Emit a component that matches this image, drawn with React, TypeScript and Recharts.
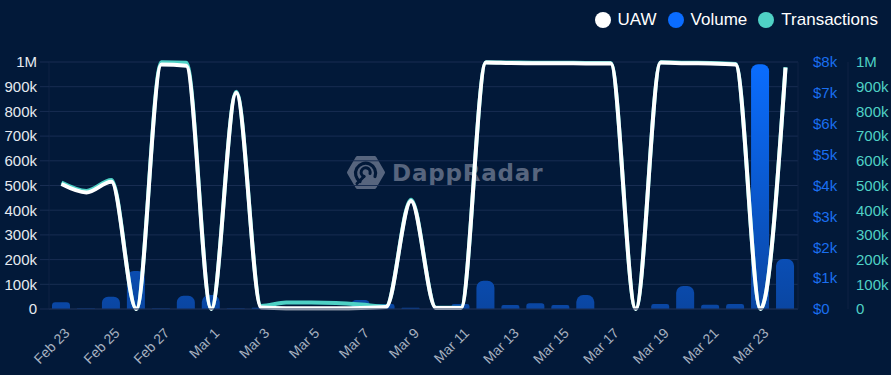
import { ComposedChart, Bar, Line, XAxis, YAxis, CartesianGrid } from 'recharts';

const dates = [
  'Feb 23', 'Feb 24', 'Feb 25', 'Feb 26', 'Feb 27', 'Feb 28',
  'Mar 1', 'Mar 2', 'Mar 3', 'Mar 4', 'Mar 5', 'Mar 6', 'Mar 7', 'Mar 8', 'Mar 9', 'Mar 10',
  'Mar 11', 'Mar 12', 'Mar 13', 'Mar 14', 'Mar 15', 'Mar 16', 'Mar 17', 'Mar 18', 'Mar 19', 'Mar 20',
  'Mar 21', 'Mar 22', 'Mar 23', 'Mar 24',
];

const uaw = [
  506000, 472000, 515000, 0, 990000, 985000,
  0, 876000, 6000, 3000, 3000, 3000, 4000, 8000, 437000, 4000,
  4000, 998000, 996000, 995000, 995000, 994000, 994000, 0, 998000, 995000,
  994000, 990000, 0, 977000,
];

const transactions = [
  512000, 478000, 522000, 0, 999000, 997000,
  0, 880000, 12000, 26000, 26000, 24000, 18000, 10000, 442000, 5000,
  5000, 999000, 998000, 997000, 997000, 996000, 996000, 0, 999000, 997000,
  996000, 992000, 0, 979000,
];

const volume = [
  220, 20, 400, 1230, 20, 430,
  450, 20, 40, 0, 0, 0, 290, 160, 40, 0,
  160, 915, 130, 185, 130, 450, 0, 0, 160, 745,
  140, 160, 7930, 1620,
];

const countTicks = [0, 100000, 200000, 300000, 400000, 500000, 600000, 700000, 800000, 900000, 1000000];
const countTickLabels = ['0', '100k', '200k', '300k', '400k', '500k', '600k', '700k', '800k', '900k', '1M'];
const volumeTicks = [0, 1000, 2000, 3000, 4000, 5000, 6000, 7000, 8000];
const volumeTickLabels = ['$0', '$1k', '$2k', '$3k', '$4k', '$5k', '$6k', '$7k', '$8k'];

const legendItems = [
  { name: 'UAW', color: '#ffffff' },
  { name: 'Volume', color: '#0a6cff' },
  { name: 'Transactions', color: '#4fd1c5' },
];

type Row = {
  date: string,
  uaw: number,
  volume: number,
  transactions: number
}

const data: Row[] = dates.map((date, i) => ({
  date,
  uaw: uaw[i],
  volume: volume[i],
  transactions: transactions[i],
}));

const bg = '#021939';
const gridColor = '#182d52';
const axisColor = '#0e2344';
const font = '"Liberation Sans", Arial, sans-serif';

const countLabel = (v: number) => countTickLabels[countTicks.indexOf(v)] ?? '';
const volumeLabel = (v: number) => volumeTickLabels[volumeTicks.indexOf(v)] ?? '';

const DateTick = (props: any) => {
  const { x, y, payload } = props;
  return (
    <g transform={`translate(${x + 9},${y + 17}) rotate(-45)`}>
      <text x={0} y={0} textAnchor="end" fill="#a7b1c0" fontSize={14}>
        {payload.value}
      </text>
    </g>
  );
};

const Watermark = () => {
  const cx = 366;
  const cy = 172.5;
  const hex = [
    [cx - 17, cy], [cx - 8.5, cy - 14.5], [cx + 8.5, cy - 14.5],
    [cx + 17, cy], [cx + 8.5, cy + 14.5], [cx - 8.5, cy + 14.5],
  ].map(p => p.join(',')).join(' ');
  return (
    <svg width={891} height={375} style={{ position: 'absolute', left: 0, top: 0 }}>
      <polygon points={hex} fill="#57657e" stroke="#57657e" strokeWidth={4} strokeLinejoin="round" />
      <path
        d={`M ${cx - 6} ${cy + 9} A 10 10 0 1 1 ${cx + 9} ${cy + 4}`}
        fill="none" stroke={bg} strokeWidth={3.2} strokeLinecap="round"
      />
      <path
        d={`M ${cx - 2} ${cy + 4} A 4.5 4.5 0 1 1 ${cx + 4} ${cy + 1}`}
        fill="none" stroke={bg} strokeWidth={3} strokeLinecap="round"
      />
      <line x1={cx - 2} y1={cy + 4} x2={cx - 9} y2={cy + 11} stroke={bg} strokeWidth={3} strokeLinecap="round" />
      <text x={392} y={181} fill="#57657e" fontSize={23} fontWeight="bold"
        style={{ fontFamily: '"DejaVu Sans", sans-serif', letterSpacing: 0.8 }}>
        DappRadar
      </text>
    </svg>
  );
};

const Legend = () => (
  <div style={{
    position: 'absolute', top: 10, right: 13, display: 'flex', alignItems: 'center',
    color: '#ffffff', fontSize: 17, lineHeight: '20px',
  }}>
    {legendItems.map((item, i) => (
      <div key={item.name} style={{ display: 'flex', alignItems: 'center', marginLeft: i === 0 ? 0 : 11 }}>
        <span style={{
          width: 16, height: 16, borderRadius: 8, background: item.color,
          display: 'inline-block', marginRight: 7,
        }} />
        <span>{item.name}</span>
      </div>
    ))}
  </div>
);

const App = () => {
  return (
    <div style={{
      position: 'fixed', left: 0, top: 0, width: 891, height: 375,
      background: bg, fontFamily: font, overflow: 'hidden',
    }}>
      <Watermark />
      <div style={{ position: 'absolute', left: 0, top: 0 }}>
        <ComposedChart width={891} height={375} data={data} margin={{ top: 62, right: 0, bottom: 0, left: 0 }}>
          <defs>
            <linearGradient id="volumeFill" gradientUnits="userSpaceOnUse" x1="0" y1="62" x2="0" y2="309">
              <stop offset="0%" stopColor="#0a6dff" />
              <stop offset="100%" stopColor="#0a46a2" />
            </linearGradient>
          </defs>
          <CartesianGrid yAxisId="left" vertical={false} stroke={gridColor} />
          <XAxis
            dataKey="date"
            height={66}
            interval={1}
            tickLine={false}
            axisLine={{ stroke: gridColor }}
            tick={<DateTick />}
          />
          <YAxis
            yAxisId="left"
            width={49}
            domain={[0, 1000000]}
            ticks={countTicks}
            tickFormatter={countLabel}
            tickSize={9}
            tickMargin={3}
            tick={{ fill: '#e6eaf0', fontSize: 15 }}
            tickLine={{ stroke: gridColor }}
            axisLine={{ stroke: axisColor }}
          />
          <YAxis
            yAxisId="right1"
            orientation="right"
            width={50}
            domain={[0, 8000]}
            ticks={volumeTicks}
            tickFormatter={volumeLabel}
            tickMargin={9}
            tick={{ fill: '#1a6ff0', fontSize: 15 }}
            tickLine={false}
            axisLine={{ stroke: axisColor }}
          />
          <YAxis
            yAxisId="right2"
            orientation="right"
            width={43}
            domain={[0, 1000000]}
            ticks={countTicks}
            tickFormatter={countLabel}
            tick={{ fill: '#4fd1c5', fontSize: 15 }}
            tickLine={false}
            axisLine={{ stroke: axisColor }}
          />
          <Bar
            yAxisId="right1"
            dataKey="volume"
            barSize={18}
            radius={[7, 7, 0, 0]}
            fill="url(#volumeFill)"
            isAnimationActive={false}
          />
          <Line
            yAxisId="right2"
            type="monotone"
            dataKey="transactions"
            stroke="#4fd1c5"
            strokeWidth={4}
            dot={false}
            activeDot={false}
            isAnimationActive={false}
          />
          <Line
            yAxisId="left"
            type="monotone"
            dataKey="uaw"
            stroke="#ffffff"
            strokeWidth={4}
            dot={false}
            activeDot={false}
            isAnimationActive={false}
          />
        </ComposedChart>
      </div>
      <Legend />
    </div>
  );
};

export default App;
